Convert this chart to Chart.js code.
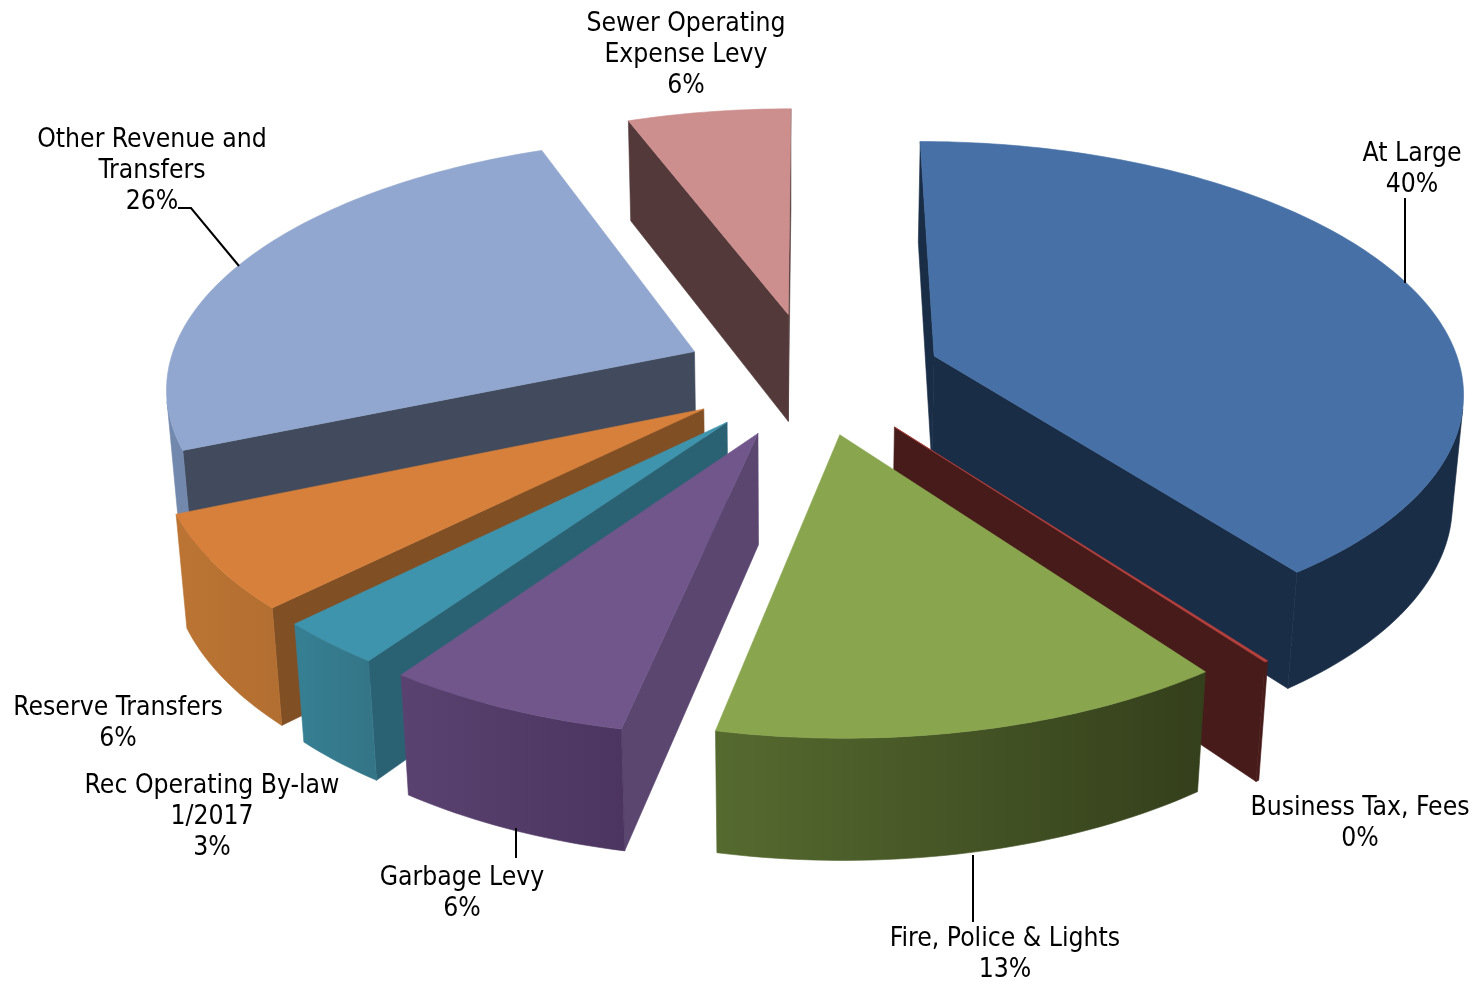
<!DOCTYPE html>
<html><head><meta charset="utf-8">
<style>html,body{margin:0;padding:0;background:#fff}canvas{display:block}</style>
<script src="https://cdn.jsdelivr.net/npm/chart.js@4"></script>
</head><body>
<canvas id="c" width="1478" height="981"></canvas>
<script>
const categories = ["At Large","Business Tax, Fees","Fire, Police & Lights","Garbage Levy","Rec Operating By-law 1/2017","Reserve Transfers","Other Revenue and Transfers","Sewer Operating Expense Levy"];
const values = [39.95,0.1,13.45,6.45,2.85,6.1,25.7,5.8];
const labelLines = [["At Large"],["Business Tax, Fees"],["Fire, Police & Lights"],["Garbage Levy"],["Rec Operating By-law","1/2017"],["Reserve Transfers"],["Other Revenue and","Transfers"],["Sewer Operating","Expense Levy"]];
const explode = [98.5,102,96,100,97.5,97,98,103];
const topColors = ["#4670a6","#b5403c","#89a64f","#70568b","#3f94ad","#d7803b","#92a7cf","#cd8e8e"];
const faceColors = ["#1a2d47","#461b19","#343f1b","#5b4670","#2a6273","#814f24","#414b5d","#533939"];
const wallLeft = ["#1a2d47","#461b19","#556a2f","#5a4270","#367f93","#bb7433","#7288ad","#533939"];
const wallRight = ["#1a2d47","#461b19","#343f1b","#4c3560","#347688","#b36f31","#7288ad","#533939"];
const labelCenters = [[1412,154],[1360,808],[1005,939],[462,878],[212,786],[118,708],[152,140],[686,24]];
const leaders = [[[1405,198],[1405,283]],[[973,855],[973,922]],[[516,828],[516,858]],[[178,208],[191,208],[239,266]]];

const view = {cx:812,cy:375,a:528,b:247,k:0.13,vpx:790,vpy:7000};
function project(u,v){const w=1-view.k*v;return {x:view.cx+view.a*u/w,y:view.cy+view.b*v/w};}
function drop(p){const H=100+22*(p.y-122)/611;const t=H/(view.vpy-p.y);return {x:p.x+(view.vpx-p.x)*t,y:p.y+(view.vpy-p.y)*t};}
function fillPoly(ctx,pts,fill){ctx.beginPath();pts.forEach((p,i)=>i?ctx.lineTo(p.x,p.y):ctx.moveTo(p.x,p.y));ctx.closePath();ctx.fillStyle=fill;ctx.strokeStyle=fill;ctx.lineWidth=0.6;ctx.fill();ctx.stroke();}

const pie3d = {
  id:'pie3d',
  beforeDatasetsDraw(chart){
    const ctx=chart.ctx;
    const arcs=chart.getDatasetMeta(0).data;
    const order=arcs.map((_,i)=>i).sort((p,q)=>{
      const s=e=>Math.sin((e.startAngle+e.endAngle)/2);
      return s(arcs[p])-s(arcs[q]);
    });
    for(const i of order){
      const e=arcs[i],R=e.outerRadius,mid=(e.startAngle+e.endAngle)/2;
      const off=e.options.offset/R;
      const ou=Math.cos(mid)*off,ov=Math.sin(mid)*off;
      const n=Math.max(2,Math.ceil((e.endAngle-e.startAngle)/0.02));
      const tip=project(ou,ov);
      const rim=[];
      for(let j=0;j<=n;j++){const t=e.startAngle+(e.endAngle-e.startAngle)*j/n;rim.push(project(ou+Math.cos(t),ov+Math.sin(t)));}
      const visible=(p,q)=>{const d=drop(p);return (q.x-p.x)*(d.y-p.y)-(q.y-p.y)*(d.x-p.x)<0;};
      const face=(p,q)=>{if(visible(p,q))fillPoly(ctx,[p,q,drop(q),drop(p)],faceColors[i]);};
      face(tip,rim[0]);
      face(rim[n],tip);
      const xs=rim.map(p=>p.x);
      const g=ctx.createLinearGradient(Math.min(...xs),0,Math.max(...xs),0);
      g.addColorStop(0,wallLeft[i]);g.addColorStop(1,wallRight[i]);
      let run=[];
      const flush=()=>{if(run.length>1)fillPoly(ctx,[...run,...run.slice().reverse().map(drop)],g);run=[];};
      for(let j=0;j<n;j++){
        if(visible(rim[j],rim[j+1])){if(!run.length)run.push(rim[j]);run.push(rim[j+1]);}
        else flush();
      }
      flush();
      fillPoly(ctx,[tip,...rim],topColors[i]);
    }
    return false;
  },
  afterDraw(chart){
    const ctx=chart.ctx;
    ctx.save();
    ctx.strokeStyle='#000';ctx.lineWidth=2;
    leaders.forEach(l=>{ctx.beginPath();l.forEach((p,i)=>i?ctx.lineTo(p[0],p[1]):ctx.moveTo(p[0],p[1]));ctx.stroke();});
    ctx.font='26.3px "DejaVu Sans Condensed","DejaVu Sans",sans-serif';
    ctx.textAlign='center';ctx.textBaseline='middle';ctx.fillStyle='#000';
    const total=values.reduce((s,v)=>s+v,0);
    labelLines.forEach((lines,i)=>{
      const all=[...lines,Math.round(values[i]/total*100)+'%'];
      all.forEach((t,j)=>ctx.fillText(t,labelCenters[i][0],labelCenters[i][1]+j*31));
    });
    ctx.restore();
  }
};

new Chart(document.getElementById('c'),{
  type:'pie',
  data:{labels:categories,datasets:[{data:values,backgroundColor:topColors,offset:explode,borderWidth:0}]},
  options:{responsive:false,animation:false,rotation:0,radius:400,
    plugins:{legend:{display:false},tooltip:{enabled:false}}},
  plugins:[pie3d]
});
</script>
</body></html>
